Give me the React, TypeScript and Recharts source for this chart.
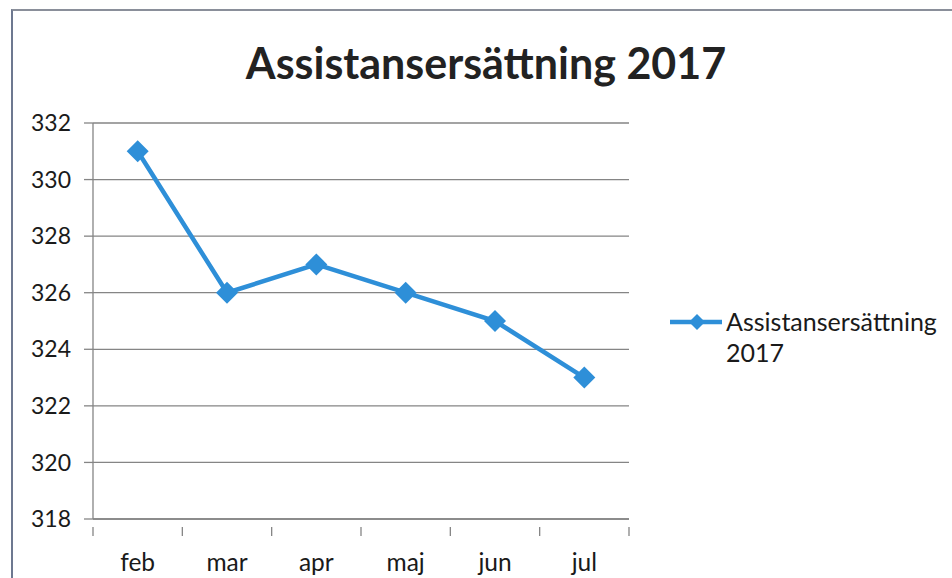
import { LineChart, Line, XAxis, YAxis, CartesianGrid } from "recharts";

const months = ["feb", "mar", "apr", "maj", "jun", "jul"];
const values = [331, 326, 327, 326, 325, 323];
const yTicks = [318, 320, 322, 324, 326, 328, 330, 332];
const seriesName = "Assistansersättning 2017";

const BLUE = "#2e8fd8";
const AXIS = "#858585";
const FONT = "Lato, 'Open Sans', sans-serif";

const data = months.map((m, i) => ({ pos: i + 0.5, month: m, value: values[i] }));
const xTicks = Array.from({ length: months.length * 2 + 1 }, (_, i) => i / 2);

function Diamond(props: any) {
  const { cx, cy } = props;
  if (cx == null || cy == null) return null;
  const s = 11;
  return <polygon points={`${cx},${cy - s} ${cx + s},${cy} ${cx},${cy + s} ${cx - s},${cy}`} fill={BLUE} />;
}

function XTick(props: any) {
  const { x, y, payload } = props;
  const v = payload.value as number;
  if (Number.isInteger(v)) {
    return <line x1={x} y1={y} x2={x} y2={y + 9} stroke={AXIS} strokeWidth={1.3} />;
  }
  return (
    <text x={x} y={y + 44} textAnchor="middle" fontSize={24.5} fill="#1a1a1a" fontFamily={FONT}>
      {months[Math.floor(v)]}
    </text>
  );
}

function LegendBox() {
  return (
    <svg width={284} height={80} style={{ position: "absolute", left: 668, top: 305 }}>
      <line x1={2} y1={17} x2={54} y2={17} stroke={BLUE} strokeWidth={4.5} />
      <polygon points="29,9 37,17 29,25 21,17" fill={BLUE} />
      <text x={58} y={26} fontSize={25} fill="#1a1a1a" fontFamily={FONT}>Assistansersättning</text>
      <text x={58} y={57} fontSize={25} fill="#1a1a1a" fontFamily={FONT}>2017</text>
    </svg>
  );
}

export default function App() {
  return (
    <div style={{ position: "absolute", left: 0, top: 0, width: 952, height: 578, background: "#fff", overflow: "hidden" }}>
      <div style={{ position: "absolute", left: 11, top: 9, width: 960, height: 600, borderLeft: "2px solid #6d7890", borderTop: "2px solid #8a8f9a" }} />
      <div
        style={{
          position: "absolute",
          left: 486,
          top: 37,
          transform: "translateX(-50%)",
          whiteSpace: "nowrap",
          fontFamily: FONT,
          fontWeight: 700,
          fontSize: 43,
          color: "#222",
        }}
      >
        {seriesName}
      </div>
      <LineChart width={952} height={578} data={data} margin={{ top: 123, right: 323, bottom: 0, left: 10 }} style={{ position: "absolute", left: 0, top: 0 }}>
        <CartesianGrid vertical={false} stroke={AXIS} strokeWidth={1.3} />
        <XAxis
          dataKey="pos"
          type="number"
          domain={[0, months.length]}
          ticks={xTicks}
          interval={0}
          height={59}
          axisLine={{ stroke: AXIS, strokeWidth: 1.3 }}
          tickLine={false}
          tick={<XTick />}
        />
        <YAxis
          domain={[318, 332]}
          ticks={yTicks}
          interval={0}
          width={83}
          tickSize={9}
          tickMargin={13}
          axisLine={{ stroke: AXIS, strokeWidth: 1.3 }}
          tickLine={{ stroke: AXIS, strokeWidth: 1.3 }}
          tick={{ fontSize: 23, fill: "#1a1a1a", fontFamily: FONT }}
        />
        <Line
          type="linear"
          dataKey="value"
          name={seriesName}
          stroke={BLUE}
          strokeWidth={4.5}
          dot={<Diamond />}
          activeDot={false}
          isAnimationActive={false}
        />
      </LineChart>
      <LegendBox />
    </div>
  );
}
